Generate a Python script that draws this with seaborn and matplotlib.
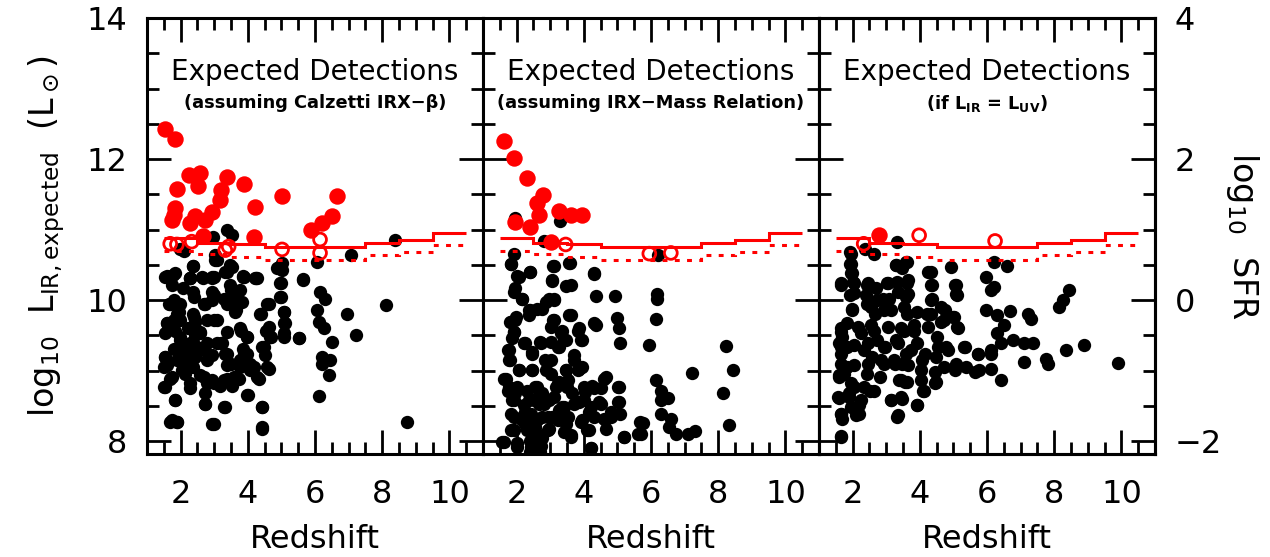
import matplotlib
matplotlib.use("Agg")
import matplotlib.pyplot as plt
import numpy as np
import pandas as pd
import seaborn as sns
from matplotlib.ticker import MultipleLocator

# ---- values ----
bin_edges = [1.5, 2.5, 3.5, 4.5, 5.5, 6.5, 7.5, 8.5, 9.5, 10.5]
limit_solid = [10.88, 10.81, 10.79, 10.76, 10.76, 10.75, 10.81, 10.86, 10.95]
limit_dotted = [10.70, 10.66, 10.61, 10.57, 10.57, 10.57, 10.64, 10.69, 10.78]

titles = ["Expected Detections", "Expected Detections", "Expected Detections"]
subtitles = [
    "(assuming Calzetti IRX\u2212\u03b2)",
    "(assuming IRX\u2212Mass Relation)",
    r"(if $\mathbf{L_{IR}}$ = $\mathbf{L_{UV}}$)",
]
x_ticks = [2, 4, 6, 8, 10]
y_ticks = [8, 10, 12, 14]
sfr_ticks = [-2, 0, 2, 4]
sfr_labels = ["\u22122", "0", "2", "4"]

# panel 1 : Calzetti IRX-beta  (undetected sources)
p1_black_z = [2.96, 3.38, 3.53, 1.97, 2.09, 3.03, 3.03, 2.36, 3.48, 3.33, 5.02, 4.87, 6.07, 7.06,
              8.37, 1.54, 1.78, 2.28, 2.67, 2.94, 3.87, 4.22, 5.63, 2.38, 3.07, 3.53, 3.38, 1.59,
              1.84, 2.28, 2.63, 2.93, 3.87, 4.27, 4.92, 5.02, 4.97, 4.97, 5.65, 1.74, 2.08, 2.38,
              2.93, 3.48, 3.78, 3.28, 3.58, 3.78, 1.64, 1.79, 1.94, 2.38, 2.43, 2.73, 2.93, 3.63,
              4.62, 4.37, 5.07, 6.16, 6.31, 6.07, 6.11, 6.26, 6.96, 8.10, 7.21, 6.51, 6.21, 6.46,
              6.21, 6.41, 6.11, 5.52, 5.07, 5.12, 4.62, 4.67, 4.42, 4.52, 4.62, 4.32, 4.07, 3.78,
              3.98, 3.38, 3.78, 3.98, 3.23, 3.33, 3.38, 2.78, 2.58, 2.78, 2.38, 2.18, 2.43, 1.59,
              1.54, 1.84, 1.99, 1.79, 1.54, 1.59, 1.89, 2.13, 2.28, 2.58, 2.78, 2.93, 3.18, 3.38,
              3.53, 3.73, 1.69, 1.54, 2.73, 4.02, 1.84, 2.73, 3.33, 4.42, 1.69, 1.89, 2.98, 4.42,
              8.75, 1.99, 2.23, 3.08, 3.78, 4.17, 3.87, 2.38, 2.18, 2.93, 3.08, 2.43, 1.99]
p1_black_L = [10.90, 10.99, 10.92, 10.73, 10.70, 10.64, 10.57, 10.48, 10.50, 10.40, 10.53, 10.45,
              10.54, 10.64, 10.85, 10.33, 10.36, 10.31, 10.31, 10.31, 10.33, 10.31, 10.30, 10.48,
              10.57, 10.47, 10.40, 10.35, 10.38, 10.31, 10.33, 10.33, 10.35, 10.31, 10.47, 10.43,
              10.24, 10.05, 10.29, 10.21, 10.17, 10.12, 10.12, 10.21, 10.14, 10.02, 10.05, 9.98,
              9.95, 10.00, 9.83, 9.81, 9.69, 9.95, 10.00, 9.83, 9.95, 9.81, 9.83, 10.12, 10.02,
              9.86, 9.69, 9.60, 9.81, 9.93, 9.50, 9.41, 9.20, 9.15, 9.10, 8.94, 8.64, 9.46, 9.48,
              9.67, 9.62, 9.48, 9.34, 9.22, 9.03, 8.89, 9.01, 9.15, 9.24, 9.55, 9.60, 9.48, 9.39,
              9.24, 9.08, 9.72, 9.55, 9.39, 9.39, 9.29, 9.20, 9.67, 9.53, 9.57, 9.43, 9.31, 9.20,
              9.08, 9.15, 8.96, 8.75, 8.94, 8.82, 8.87, 8.79, 8.89, 8.79, 8.89, 8.89, 8.77, 8.68,
              8.65, 8.58, 8.53, 8.49, 8.49, 8.27, 8.27, 8.24, 8.18, 8.27, 9.95, 9.60, 9.72, 9.05,
              9.05, 9.31, 9.05, 9.15, 9.22, 9.39, 9.50, 9.72]
p1_dense_z = [1.60, 2.29, 2.99, 1.69, 1.90, 1.60, 2.39, 2.69, 2.99, 3.49, 3.39, 3.64, 2.39, 2.99,
              2.59, 2.29, 1.99, 1.55, 1.50, 2.19, 2.69, 3.19, 3.39, 3.79, 3.99, 3.89, 4.08, 4.28,
              3.59, 3.29, 2.99, 2.69, 2.29, 1.75, 1.50, 2.04, 3.99, 2.74, 3.29, 1.84, 4.43, 1.75,
              1.90, 2.94, 4.43, 4.53, 4.68, 4.48, 4.58, 5.08, 5.08, 5.53, 4.98, 4.98, 5.08, 4.58,
              4.38, 3.89, 4.23, 3.59, 3.84, 1.80, 1.99, 2.49, 2.79, 3.49]
p1_dense_L = [10.33, 10.31, 10.33, 9.95, 9.81, 9.67, 10.05, 9.95, 10.07, 10.14, 9.95, 9.86, 9.76,
              9.72, 9.53, 9.39, 9.29, 9.20, 9.05, 9.20, 9.29, 9.39, 9.24, 9.57, 9.48, 9.24, 9.10,
              8.91, 8.91, 8.87, 8.82, 8.91, 8.82, 8.91, 8.77, 9.01, 8.65, 8.53, 8.49, 8.58, 8.49,
              8.30, 8.27, 8.24, 8.20, 9.57, 9.48, 9.34, 9.05, 9.67, 9.53, 9.46, 10.24, 10.05, 9.83,
              9.95, 9.81, 10.33, 10.31, 10.00, 9.98, 9.72, 9.48, 9.34, 9.15, 9.10]
p1_det_z = [1.54, 1.84, 2.26, 2.58, 2.53, 1.89, 3.38, 3.88, 3.21, 3.18, 1.84, 1.79, 1.74, 2.93,
            2.43, 2.73, 2.28, 4.22, 5.02, 6.66, 6.51, 6.21, 5.87, 4.17, 2.68]
p1_det_L = [12.42, 12.28, 11.77, 11.81, 11.62, 11.57, 11.74, 11.64, 11.56, 11.42, 11.30, 11.21,
            11.14, 11.25, 11.19, 11.13, 11.09, 11.32, 11.48, 11.47, 11.19, 11.09, 10.99, 10.89,
            10.91]
p1_tent_z = [1.69, 1.89, 2.33, 3.33, 3.43, 5.02, 6.15, 6.15]
p1_tent_L = [10.80, 10.79, 10.83, 10.71, 10.76, 10.72, 10.86, 10.67]

# panel 2 : IRX-Mass relation
p2_black_z = [1.96, 3.28, 2.81, 1.92, 1.84, 2.01, 2.41, 3.08, 3.56, 3.06, 4.30, 6.21, 1.84, 2.41,
              2.07, 1.96, 2.16, 3.11, 3.06, 3.58, 3.46, 3.61, 4.30, 4.35, 4.35, 4.93, 5.00, 5.05,
              5.07, 6.19, 6.19, 6.14, 5.95, 8.23, 8.43, 7.22, 8.15, 8.33, 6.14, 6.29, 6.52, 6.29,
              6.29, 6.59, 6.54, 6.74, 7.09, 7.32, 5.75, 5.70, 5.20, 5.05, 5.05, 5.07, 4.65, 4.67,
              4.80, 4.67, 4.50, 4.45, 4.25, 4.05, 4.16, 3.96, 4.16, 4.21, 3.86, 3.96, 3.71, 3.86,
              3.96, 3.61, 3.11, 3.36, 3.46, 3.26, 3.46, 3.26, 3.51, 3.66, 3.86, 2.96, 3.11, 2.76,
              2.41, 2.36, 1.81, 1.96, 1.92, 1.87, 1.77, 1.81, 2.26, 2.71, 3.01, 2.46, 1.67, 1.77,
              2.07, 1.96, 1.87, 1.92, 1.92, 1.62, 2.01, 2.46, 2.86, 3.01, 2.56, 2.76, 2.96, 2.36,
              2.26, 2.46, 2.66, 2.76, 2.56, 2.96, 2.26, 2.41, 2.76, 2.71, 2.41, 3.16, 3.36, 3.46,
              3.61, 3.26, 3.06]
p2_black_L = [11.16, 11.12, 10.84, 10.65, 10.51, 10.35, 10.40, 10.48, 10.53, 10.28, 10.38, 10.64,
              10.52, 10.40, 10.33, 10.17, 10.02, 10.48, 10.27, 10.53, 10.20, 10.21, 10.37, 10.06,
              9.65, 10.06, 9.75, 9.60, 9.39, 10.09, 10.02, 9.74, 9.36, 9.35, 9.01, 8.97, 8.68,
              8.23, 8.87, 8.72, 8.62, 8.58, 8.39, 8.31, 8.20, 8.11, 8.11, 8.15, 8.26, 8.11, 8.06,
              8.77, 8.56, 8.38, 8.31, 8.18, 8.42, 8.91, 8.75, 8.56, 8.79, 8.70, 8.42, 8.30, 8.16,
              7.90, 9.60, 9.43, 9.22, 9.03, 9.05, 9.79, 9.72, 9.57, 9.43, 9.34, 9.01, 8.84, 8.77,
              8.68, 8.56, 10.02, 10.00, 9.88, 9.86, 9.79, 9.69, 9.72, 9.55, 9.46, 9.29, 9.15, 9.39,
              9.41, 9.41, 9.24, 8.89, 8.77, 9.01, 8.68, 8.58, 8.35, 8.16, 7.99, 7.92, 9.01, 9.15,
              8.96, 8.77, 8.68, 8.58, 8.58, 8.42, 8.35, 8.53, 8.35, 8.20, 8.18, 8.25, 8.01, 8.04,
              7.85, 7.85, 8.77, 8.49, 8.25, 8.06, 8.44, 8.35]
p2_dense_z = [1.93, 2.17, 2.87, 3.12, 2.37, 2.62, 1.83, 1.98, 3.07, 3.02, 3.32, 3.57, 3.82, 3.92,
              1.93, 2.22, 2.47, 1.73, 1.78, 2.72, 3.22, 3.42, 2.07, 2.47, 2.87, 3.02, 3.47, 3.72,
              3.82, 1.63, 1.73, 2.02, 2.32, 2.62, 3.22, 3.52, 4.01, 4.31, 4.61, 1.93, 2.22, 2.52,
              2.82, 3.12, 3.42, 3.72, 4.01, 4.21, 4.51, 5.01, 5.01, 4.81, 1.83, 2.13, 2.42, 2.62,
              2.92, 3.22, 3.52, 3.92, 4.31, 4.61, 1.83, 2.32, 2.62, 2.92, 3.42, 3.62, 4.11, 5.21,
              5.66, 5.61, 1.58, 2.02, 2.42, 2.72, 4.21, 4.31]
p2_dense_L = [10.12, 10.02, 9.98, 10.02, 9.86, 9.88, 9.69, 9.76, 9.72, 9.62, 9.53, 9.79, 9.57,
              9.43, 9.55, 9.39, 9.27, 9.29, 9.15, 9.39, 9.34, 9.43, 9.01, 9.01, 9.01, 9.15, 9.01,
              9.15, 9.01, 8.89, 8.72, 8.77, 8.72, 8.77, 8.82, 8.87, 8.77, 8.75, 8.89, 8.58, 8.51,
              8.58, 8.53, 8.63, 8.49, 8.53, 8.58, 8.49, 8.53, 8.77, 8.56, 8.35, 8.39, 8.32, 8.39,
              8.30, 8.35, 8.30, 8.35, 8.27, 8.35, 8.32, 8.16, 8.16, 8.11, 8.16, 8.13, 8.09, 8.16,
              8.06, 8.27, 8.11, 7.99, 7.97, 7.92, 7.94, 7.90, 9.67]
p2_det_z = [1.62, 1.92, 2.31, 2.78, 2.61, 2.68, 3.26, 3.61, 3.96, 1.95, 2.41, 3.01]
p2_det_L = [12.26, 12.02, 11.73, 11.49, 11.38, 11.21, 11.27, 11.21, 11.21, 11.11, 11.04, 10.83]
p2_tent_z = [3.46, 5.95, 6.59]
p2_tent_L = [10.79, 10.66, 10.67]

# panel 3 : L_IR = L_UV
p3_black_z = [3.31, 1.93, 2.38, 2.63, 1.93, 1.99, 1.64, 2.04, 1.93, 3.28, 3.63, 3.48, 4.32, 4.37,
              4.37, 4.92, 5.07, 5.12, 5.97, 6.21, 6.61, 6.21, 6.11, 8.45, 8.25, 8.15, 5.97, 6.69,
              6.31, 7.21, 7.31, 6.51, 6.31, 6.76, 7.11, 7.36, 8.35, 8.90, 7.75, 7.81, 7.11, 9.90,
              6.11, 6.41, 5.72, 5.32, 5.07, 5.37, 5.77, 6.11, 6.41, 4.22, 4.62, 4.72, 5.02, 5.12,
              4.52, 4.77, 4.47, 4.72, 4.47, 4.13, 3.93, 3.63, 3.38, 3.13, 3.48, 3.33, 4.07, 3.93,
              3.83, 3.63, 3.58, 3.63, 3.33, 3.03, 3.08, 2.93, 2.73, 2.43, 2.43, 2.68, 3.53, 3.28,
              3.58, 3.48, 3.23, 2.93, 2.63, 2.73, 2.93, 2.58, 2.33, 2.24, 2.43, 2.83, 2.53, 2.24,
              1.94, 2.19, 1.64, 1.69, 1.59, 1.59, 1.64, 1.69, 1.64, 1.84, 1.99, 1.84, 1.84, 2.04,
              1.89, 1.74, 1.59, 1.64]
p3_black_L = [10.83, 10.69, 10.73, 10.66, 10.52, 10.38, 10.21, 10.24, 10.07, 10.50, 10.54, 10.45,
              10.40, 10.21, 10.01, 10.47, 10.21, 10.07, 10.33, 10.54, 10.49, 10.19, 10.14, 10.14,
              10.00, 9.90, 9.86, 9.84, 9.79, 9.81, 9.74, 9.65, 9.53, 9.43, 9.39, 9.39, 9.29, 9.36,
              9.17, 9.10, 9.12, 9.11, 9.24, 9.39, 9.24, 9.34, 9.10, 9.05, 9.01, 9.03, 8.87, 9.81,
              9.90, 9.72, 9.76, 9.62, 9.48, 9.34, 9.20, 9.05, 8.84, 8.72, 8.51, 8.84, 8.87, 8.58,
              8.60, 8.35, 9.15, 9.39, 9.57, 9.81, 10.05, 10.24, 10.26, 10.24, 10.02, 9.86, 10.00,
              10.21, 9.95, 9.81, 9.57, 9.43, 9.24, 9.10, 9.15, 9.34, 9.57, 9.43, 9.10, 9.20, 9.29,
              9.53, 8.96, 8.91, 8.72, 8.58, 8.49, 8.39, 8.39, 8.32, 8.61, 8.94, 9.24, 9.48, 9.55,
              9.67, 9.86, 9.34, 9.05, 8.77, 8.68, 8.96, 9.39, 8.06]
p3_dense_z = [1.96, 1.96, 1.96, 2.01, 1.66, 2.05, 2.45, 2.70, 3.05, 3.30, 3.60, 3.65, 4.24, 4.34,
              4.34, 5.04, 5.09, 2.40, 2.90, 3.35, 3.65, 1.99, 2.54, 3.14, 3.54, 3.93, 4.34, 4.74,
              4.99, 1.66, 2.15, 2.54, 3.04, 3.45, 3.84, 4.24, 4.64, 5.14, 1.66, 2.05, 2.45, 2.95,
              3.35, 3.75, 4.14, 4.54, 4.84, 5.34, 5.74, 6.13, 1.66, 2.05, 2.45, 2.85, 3.25, 3.65,
              4.04, 4.44, 5.04, 5.64, 1.61, 1.96, 2.35, 2.65, 3.45, 3.55, 4.04, 4.44, 1.56, 1.90,
              2.20, 3.14, 3.45, 3.93, 4.10, 1.66, 2.10, 3.35, 1.66]
p3_dense_L = [10.66, 10.52, 10.38, 10.26, 10.24, 10.10, 10.24, 10.17, 10.24, 10.50, 10.54, 10.28,
              10.40, 10.21, 10.00, 10.21, 10.09, 10.07, 10.02, 10.12, 10.09, 9.88, 9.90, 9.86,
              9.90, 9.83, 9.81, 9.86, 9.76, 9.60, 9.62, 9.65, 9.62, 9.60, 9.65, 9.62, 9.69, 9.60,
              9.34, 9.36, 9.39, 9.34, 9.39, 9.29, 9.24, 9.34, 9.29, 9.34, 9.24, 9.29, 9.10, 9.08,
              9.10, 9.15, 9.10, 9.08, 9.01, 8.98, 9.01, 8.98, 8.91, 8.82, 8.77, 8.72, 8.87, 8.84,
              8.87, 8.82, 8.63, 8.63, 8.51, 8.58, 8.63, 8.51, 8.72, 8.39, 8.37, 8.37, 8.08]
p3_det_z = [2.78]
p3_det_L = [10.92]
p3_tent_z = [2.33, 3.98, 6.24]
p3_tent_L = [10.80, 10.92, 10.84]

panels = [
    (p1_black_z + p1_dense_z, p1_black_L + p1_dense_L, p1_det_z, p1_det_L, p1_tent_z, p1_tent_L),
    (p2_black_z + p2_dense_z, p2_black_L + p2_dense_L, p2_det_z, p2_det_L, p2_tent_z, p2_tent_L),
    (p3_black_z + p3_dense_z, p3_black_L + p3_dense_L, p3_det_z, p3_det_L, p3_tent_z, p3_tent_L),
]

sns.set_theme(style="ticks")
plt.rcParams["font.family"] = ["DejaVu Sans"]
plt.rcParams["mathtext.fontset"] = "dejavusans"
for key in ["text.color", "axes.labelcolor", "xtick.color", "ytick.color", "axes.edgecolor"]:
    plt.rcParams[key] = "black"

RED = "#ff0000"
W, H = 1270, 557
fig = plt.figure(figsize=(W / 100, H / 100), dpi=100)

left_px, panel_w, top_px, bottom_px = 147, 336, 18, 454
axes = []
for i, (bz, bl, dz, dl, tz, tl) in enumerate(panels):
    ax = fig.add_axes([(left_px + i * panel_w) / W, 1 - bottom_px / H,
                       panel_w / W, (bottom_px - top_px) / H])
    axes.append(ax)

    black = pd.DataFrame({"z": bz, "L": bl})
    sns.scatterplot(data=black, x="z", y="L", ax=ax, color="black", s=92,
                    linewidth=0, zorder=3)

    ax.stairs(limit_solid, bin_edges, baseline=None, color=RED, lw=2.2, zorder=4)
    ax.stairs(limit_dotted, bin_edges, baseline=None, color=RED, lw=2.2,
              linestyle=(0, (1.6, 2.4)), zorder=4)

    det = pd.DataFrame({"z": dz, "L": dl})
    sns.scatterplot(data=det, x="z", y="L", ax=ax, color=RED, s=140,
                    linewidth=0, zorder=5)
    tent = pd.DataFrame({"z": tz, "L": tl})
    sns.scatterplot(data=tent, x="z", y="L", ax=ax, facecolor="none",
                    edgecolor=RED, s=85, linewidth=2.0, zorder=6)

    ax.set_xlim(1, 11)
    ax.set_ylim(7.82, 14)
    ax.xaxis.set_minor_locator(MultipleLocator(0.5))
    ax.yaxis.set_minor_locator(MultipleLocator(0.5))
    ax.set_xticks(x_ticks)
    ax.set_xticklabels([str(t) for t in x_ticks])
    ax.set_yticks(y_ticks)
    ax.tick_params(which="both", direction="in", top=True, right=(i < 2), width=2.0)
    ax.tick_params(which="major", length=17, labelsize=23)
    ax.tick_params(which="minor", length=8.5)
    ax.tick_params(axis="x", which="major", pad=18)
    ax.tick_params(axis="y", which="major", pad=14)
    if i == 0:
        ax.set_yticklabels([str(t) for t in y_ticks])
        ax.set_ylabel(r"log$_{10}$  L$_{\rm IR,expected}$  (L$_\odot$)",
                      fontsize=24, labelpad=14)
    else:
        ax.tick_params(axis="y", labelleft=False)
        ax.set_ylabel("")
    ax.set_xlabel("Redshift", fontsize=23, labelpad=10)
    for sp in ax.spines.values():
        sp.set_linewidth(2.2)

    ax.text(0.5, 0.876, titles[i], transform=ax.transAxes, ha="center",
            va="center", fontsize=20)
    ax.text(0.5, 0.805, subtitles[i], transform=ax.transAxes, ha="center",
            va="center", fontsize=12.8, fontweight="bold")

# right-hand axis: log10 SFR = log10 L_IR - 10
sfr = axes[2].twinx()
sfr.set_ylim(7.82 - 10, 14 - 10)
sfr.set_yticks(sfr_ticks)
sfr.set_yticklabels(sfr_labels)
sfr.yaxis.set_minor_locator(MultipleLocator(0.5))
sfr.tick_params(which="both", direction="in", width=2.0)
sfr.tick_params(which="major", length=17, labelsize=23, pad=14)
sfr.tick_params(which="minor", length=8.5)
sfr.set_ylabel(r"log$_{10}$  SFR", fontsize=24, rotation=270, labelpad=28)
for sp in sfr.spines.values():
    sp.set_linewidth(2.2)

fig.savefig("out.png", dpi=100)
